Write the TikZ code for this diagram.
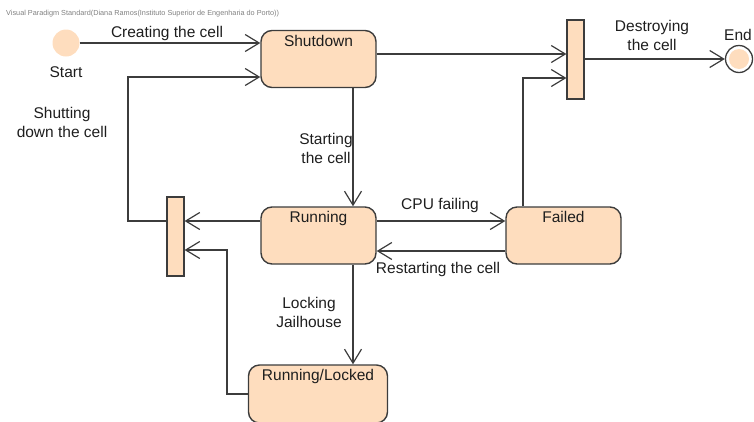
\documentclass[tikz,border=0pt]{standalone}
\usepackage{fontspec}
\setmainfont{Liberation Sans}
\usetikzlibrary{arrows.meta}

\definecolor{peach}{RGB}{254,221,190}
\definecolor{edge}{RGB}{60,60,60}
\definecolor{ink}{RGB}{30,30,30}

\tikzset{
  state/.style={draw=edge, fill=peach, line width=1.4pt, rounded corners=11pt,
    minimum width=115pt, minimum height=57pt, inner sep=0pt},
  bar/.style={draw=edge, fill=peach, line width=1.2pt,
    minimum width=17pt, minimum height=79pt, inner sep=0pt},
  statename/.style={anchor=north, inner sep=5pt, text=ink},
  lbl/.style={text=ink, align=center, inner sep=1pt},
  arr/.style={draw=edge, line width=1.2pt,
    -{Straight Barb[length=14pt, width=17pt, line width=1.2pt]}},
}

\begin{document}
\begin{tikzpicture}[x=1pt, y=-1pt, font=\fontsize{15.5}{19}\selectfont]
  \useasboundingbox (0,0) rectangle (754,421);
  \clip (0,0) rectangle (754,421);

  \node[text=black!50, font=\fontsize{7.3}{9}\selectfont, anchor=west, inner sep=0pt]
    (stamp) at (6,14) {Visual Paradigm Standard(Diana Ramos(Instituto Superior de Engenharia do Porto))};

  % pseudo states
  \node[circle, fill=peach, minimum size=27pt, inner sep=0pt] (start) at (66,43) {};
  \node[lbl] (startlbl) at (66,72) {Start};
  \node[circle, draw=edge, fill=white, line width=1.3pt, minimum size=27pt, inner sep=0pt] (finish) at (739,59) {};
  \node[circle, fill=peach, minimum size=20pt, inner sep=0pt] (finishdot) at (finish) {};
  \node[lbl] (finishlbl) at (738,35) {End};

  % states
  \node[state, label={[statename]north:Shutdown}] (shutdown) at (318.5,59) {};
  \node[state, label={[statename]north:Running}] (running) at (318.5,235.5) {};
  \node[state, label={[statename]north:Failed}] (failed) at (563.5,235.5) {};
  \node[state, minimum width=139pt, minimum height=58pt,
    label={[statename]north:Running/Locked}] (locked) at (318,394) {};

  % fork / join bars
  \node[bar] (topbar) at (575.5,59.5) {};
  \node[bar] (leftbar) at (175.5,236.5) {};

  % bend points
  \coordinate (spine) at (353,0);
  \coordinate (hi) at (0,221);
  \coordinate (lo) at (0,251);
  \coordinate (tobar) at (0,54);
  \coordinate (back) at (128,77);
  \coordinate (lockturn) at (227,250);
  \coordinate (failturn) at (523,78);

  % transitions
  \draw[arr] (start.east) -- (start.east -| shutdown.west);
  \draw[arr] (shutdown.east |- tobar) -- (topbar.west |- tobar);
  \draw[arr] (topbar.east |- finish) -- (finish);
  \draw[arr] (shutdown.south -| spine) -- (running.north -| spine);
  \draw[arr] (running.south -| spine) -- (locked.north -| spine);
  \draw[arr] (running.east |- hi) -- (failed.west |- hi);
  \draw[arr] (failed.west |- lo) -- (running.east |- lo);
  \draw[arr] (running.west |- hi) -- (leftbar.east |- hi);
  \draw[arr] (locked.west) -| (lockturn) -- (leftbar.east |- lockturn);
  \draw[arr] (leftbar.west |- hi) -| (back) -- (shutdown.west |- back);
  \draw[arr] (failed.north -| failturn) -- (failturn) -- (topbar.west |- failturn);

  % transition labels
  \node[lbl] (creating) at (167,33) {Creating the cell};
  \node[lbl] (destroying) at (652,35) {Destroying\\the cell};
  \node[lbl] (starting) at (326,148) {Starting\\the cell};
  \node[lbl] (shutting) at (62,122) {Shutting\\down the cell};
  \node[lbl] (cpufail) at (440,205) {CPU failing};
  \node[lbl] (restart) at (438,269) {Restarting the cell};
  \node[lbl] (locking) at (309,312) {Locking\\Jailhouse};
\end{tikzpicture}
\end{document}
